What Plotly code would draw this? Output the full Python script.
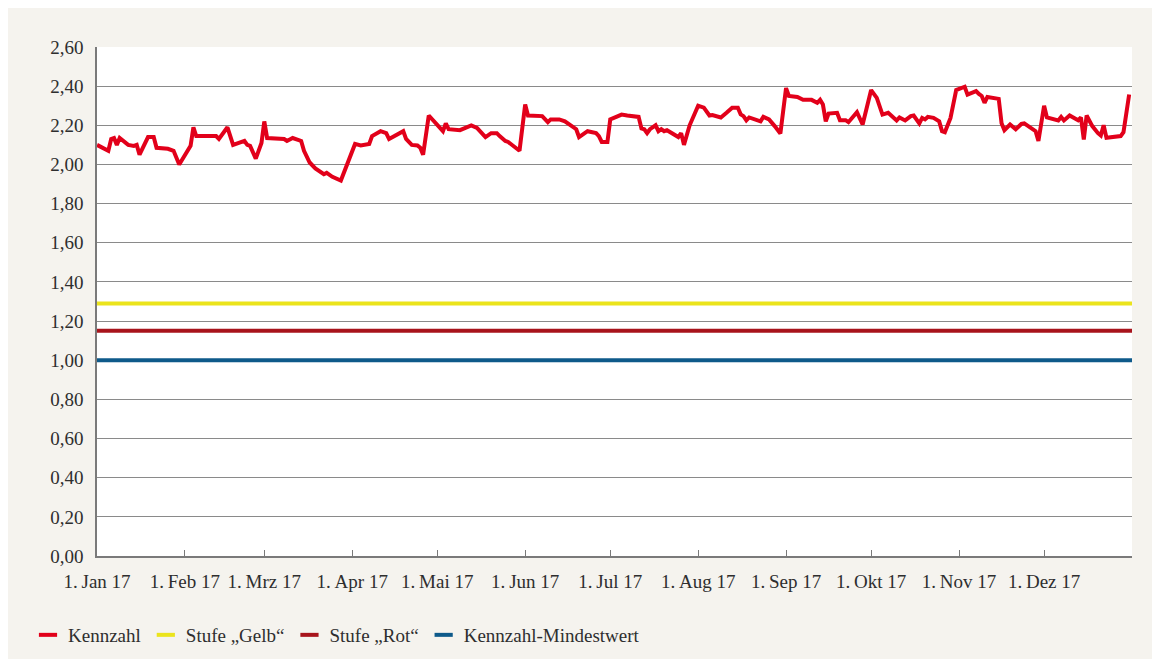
import plotly.graph_objects as go

# Kennzahl (Datum, Wert)
dates = [
    "2017-01-01", "2017-01-05", "2017-01-06", "2017-01-07", "2017-01-08", "2017-01-09", "2017-01-12",
    "2017-01-14", "2017-01-15", "2017-01-16", "2017-01-19", "2017-01-21", "2017-01-22", "2017-01-26",
    "2017-01-28", "2017-01-30",
    "2017-02-03", "2017-02-04", "2017-02-05", "2017-02-12", "2017-02-13", "2017-02-16", "2017-02-18",
    "2017-02-22", "2017-02-23", "2017-02-24", "2017-02-26", "2017-02-28",
    "2017-03-01", "2017-03-02", "2017-03-08", "2017-03-09", "2017-03-11", "2017-03-12", "2017-03-14",
    "2017-03-15", "2017-03-17", "2017-03-19", "2017-03-22", "2017-03-23", "2017-03-25", "2017-03-28",
    "2017-03-30",
    "2017-04-02", "2017-04-04", "2017-04-06", "2017-04-07", "2017-04-08", "2017-04-11", "2017-04-13",
    "2017-04-14", "2017-04-19", "2017-04-20", "2017-04-22", "2017-04-24", "2017-04-25", "2017-04-26",
    "2017-04-28",
    "2017-05-03", "2017-05-04", "2017-05-05", "2017-05-09", "2017-05-11", "2017-05-13", "2017-05-15",
    "2017-05-18", "2017-05-20", "2017-05-22", "2017-05-23", "2017-05-25", "2017-05-26", "2017-05-30",
    "2017-06-01", "2017-06-02", "2017-06-07", "2017-06-08", "2017-06-09", "2017-06-10", "2017-06-13",
    "2017-06-15", "2017-06-16", "2017-06-19", "2017-06-20", "2017-06-23", "2017-06-26", "2017-06-27",
    "2017-06-28", "2017-06-30",
    "2017-07-01", "2017-07-04", "2017-07-05", "2017-07-07", "2017-07-11", "2017-07-12", "2017-07-13",
    "2017-07-14", "2017-07-15", "2017-07-17", "2017-07-18", "2017-07-19", "2017-07-20", "2017-07-21",
    "2017-07-23", "2017-07-25", "2017-07-26", "2017-07-27", "2017-07-29",
    "2017-08-01", "2017-08-03", "2017-08-05", "2017-08-06", "2017-08-09", "2017-08-11", "2017-08-13",
    "2017-08-15", "2017-08-16", "2017-08-17", "2017-08-18", "2017-08-19", "2017-08-23", "2017-08-24",
    "2017-08-26", "2017-08-28", "2017-08-30",
    "2017-09-01", "2017-09-02", "2017-09-05", "2017-09-07", "2017-09-10", "2017-09-12", "2017-09-13",
    "2017-09-14", "2017-09-15", "2017-09-16", "2017-09-19", "2017-09-20", "2017-09-22", "2017-09-23",
    "2017-09-26", "2017-09-28",
    "2017-10-01", "2017-10-03", "2017-10-05", "2017-10-07", "2017-10-10", "2017-10-11", "2017-10-13",
    "2017-10-15", "2017-10-16", "2017-10-18", "2017-10-19", "2017-10-20", "2017-10-21", "2017-10-23",
    "2017-10-25", "2017-10-26", "2017-10-27", "2017-10-29", "2017-10-31",
    "2017-11-02", "2017-11-03", "2017-11-04", "2017-11-07", "2017-11-08", "2017-11-09", "2017-11-10",
    "2017-11-11", "2017-11-15", "2017-11-16", "2017-11-17", "2017-11-19", "2017-11-21", "2017-11-23",
    "2017-11-24", "2017-11-27", "2017-11-28", "2017-11-29",
    "2017-12-01", "2017-12-02", "2017-12-06", "2017-12-07", "2017-12-08", "2017-12-10", "2017-12-13",
    "2017-12-14", "2017-12-15", "2017-12-16", "2017-12-18", "2017-12-20", "2017-12-21", "2017-12-22",
    "2017-12-23", "2017-12-28", "2017-12-29", "2017-12-31",
]
kennzahl = [
    2.10, 2.07, 2.13, 2.135, 2.10, 2.135, 2.10,
    2.095, 2.10, 2.05, 2.14, 2.14, 2.085, 2.08,
    2.07, 2.00,
    2.095, 2.19, 2.145, 2.145, 2.13, 2.19, 2.10,
    2.12, 2.10, 2.095, 2.03, 2.11,
    2.22, 2.135, 2.13, 2.12, 2.135, 2.13, 2.12,
    2.07, 2.01, 1.98, 1.95, 1.957, 1.937, 1.918,
    1.99,
    2.105, 2.097, 2.10, 2.105, 2.145, 2.17, 2.16,
    2.13, 2.17, 2.13, 2.10, 2.097, 2.085, 2.05,
    2.25,
    2.17, 2.21, 2.18, 2.175, 2.187, 2.20, 2.187,
    2.14, 2.16, 2.16, 2.145, 2.12, 2.115, 2.07,
    2.306, 2.25, 2.247, 2.23, 2.216, 2.23, 2.23,
    2.22, 2.21, 2.18, 2.14, 2.17, 2.16, 2.145,
    2.115, 2.115,
    2.23, 2.25, 2.255, 2.25, 2.243, 2.184, 2.18,
    2.16, 2.18, 2.20, 2.17, 2.18, 2.17, 2.175,
    2.16, 2.14, 2.16, 2.10, 2.20,
    2.30, 2.29, 2.25, 2.252, 2.24, 2.264, 2.29,
    2.29, 2.256, 2.247, 2.225, 2.24, 2.22, 2.243,
    2.23, 2.196, 2.158,
    2.39, 2.35, 2.345, 2.33, 2.33, 2.315, 2.33,
    2.306, 2.22, 2.26, 2.264, 2.226, 2.226, 2.216,
    2.267, 2.204,
    2.38, 2.34, 2.255, 2.264, 2.225, 2.24, 2.225,
    2.247, 2.25, 2.21, 2.238, 2.23, 2.243, 2.238,
    2.22, 2.17, 2.165, 2.238, 2.38,
    2.388, 2.397, 2.357, 2.375, 2.36, 2.35, 2.315,
    2.345, 2.335, 2.21, 2.175, 2.204, 2.18, 2.207,
    2.21, 2.184, 2.17, 2.12,
    2.30, 2.24, 2.225, 2.243, 2.225, 2.25, 2.226,
    2.24, 2.128, 2.25, 2.196, 2.16, 2.148, 2.20,
    2.136, 2.145, 2.165, 2.357,
]

# Schwellenwerte
stufe_gelb = 1.29
stufe_rot = 1.15
mindestwert = 1.00

x_start, x_end = "2017-01-01", "2018-01-01"
tick_dates = ["2017-%02d-01" % m for m in range(1, 13)] + ["2018-01-01"]
month_names = ["Jan", "Feb", "Mrz", "Apr", "Mai", "Jun", "Jul", "Aug", "Sep", "Okt", "Nov", "Dez"]
tick_labels = ["1.\u2009%s 17" % m for m in month_names] + [""]
y_ticks = [i / 5 for i in range(14)]

RED = "#e2001a"
YELLOW = "#ebe41c"
DARKRED = "#a8141c"
BLUE = "#0e5a8a"
FONT = "Liberation Serif"

fig = go.Figure()
for val, col in [(stufe_gelb, YELLOW), (stufe_rot, DARKRED), (mindestwert, BLUE)]:
    fig.add_trace(go.Scatter(x=[x_start, x_end], y=[val, val], mode="lines",
                             line=dict(color=col, width=4), showlegend=False, hoverinfo="skip"))
fig.add_trace(go.Scatter(x=dates, y=kennzahl, mode="lines",
                         line=dict(color=RED, width=4), showlegend=False))

# Legende mit kurzen Strichen
for name, col in [("Kennzahl", RED), ("Stufe „Gelb“", YELLOW),
                  ("Stufe „Rot“", DARKRED), ("Kennzahl-Mindestwert", BLUE)]:
    fig.add_trace(go.Scatter(x=[None], y=[None], mode="markers", name=name,
                             marker=dict(symbol="line-ew", size=13, color=col,
                                         line=dict(color=col, width=4))))

W, H = 1160, 651
l, r, t, b = 89, 36, 39, 103

fig.update_layout(
    width=W, height=H,
    margin=dict(l=l, r=r, t=t, b=b, autoexpand=False),
    paper_bgcolor="#f5f3ee", plot_bgcolor="white",
    separators=",.",
    font=dict(family=FONT, size=19, color="#2e2e2e"),
    legend=dict(orientation="h", xref="container", yref="container",
                x=20 / W, y=1 - 627 / H, xanchor="left", yanchor="middle",
                bgcolor="rgba(0,0,0,0)", font=dict(size=19, color="#2e2e2e"), itemclick=False),
    xaxis=dict(type="date", range=[x_start, x_end], tickvals=tick_dates, ticktext=tick_labels,
               showgrid=False, showline=True, linecolor="#7a7a7a", linewidth=1.5,
               ticks="inside", ticklen=6, tickcolor="#7a7a7a", tickwidth=1,
               ticklabelstandoff=7, zeroline=False),
    yaxis=dict(range=[0, 2.6], tickvals=y_ticks, tickformat=".2f",
               showgrid=True, gridcolor="#8a8a8a", gridwidth=1.2,
               showline=True, linecolor="#7a7a7a", linewidth=1.5,
               ticks="", ticklabelstandoff=8, zeroline=False),
)

fig.write_html("out.html")
